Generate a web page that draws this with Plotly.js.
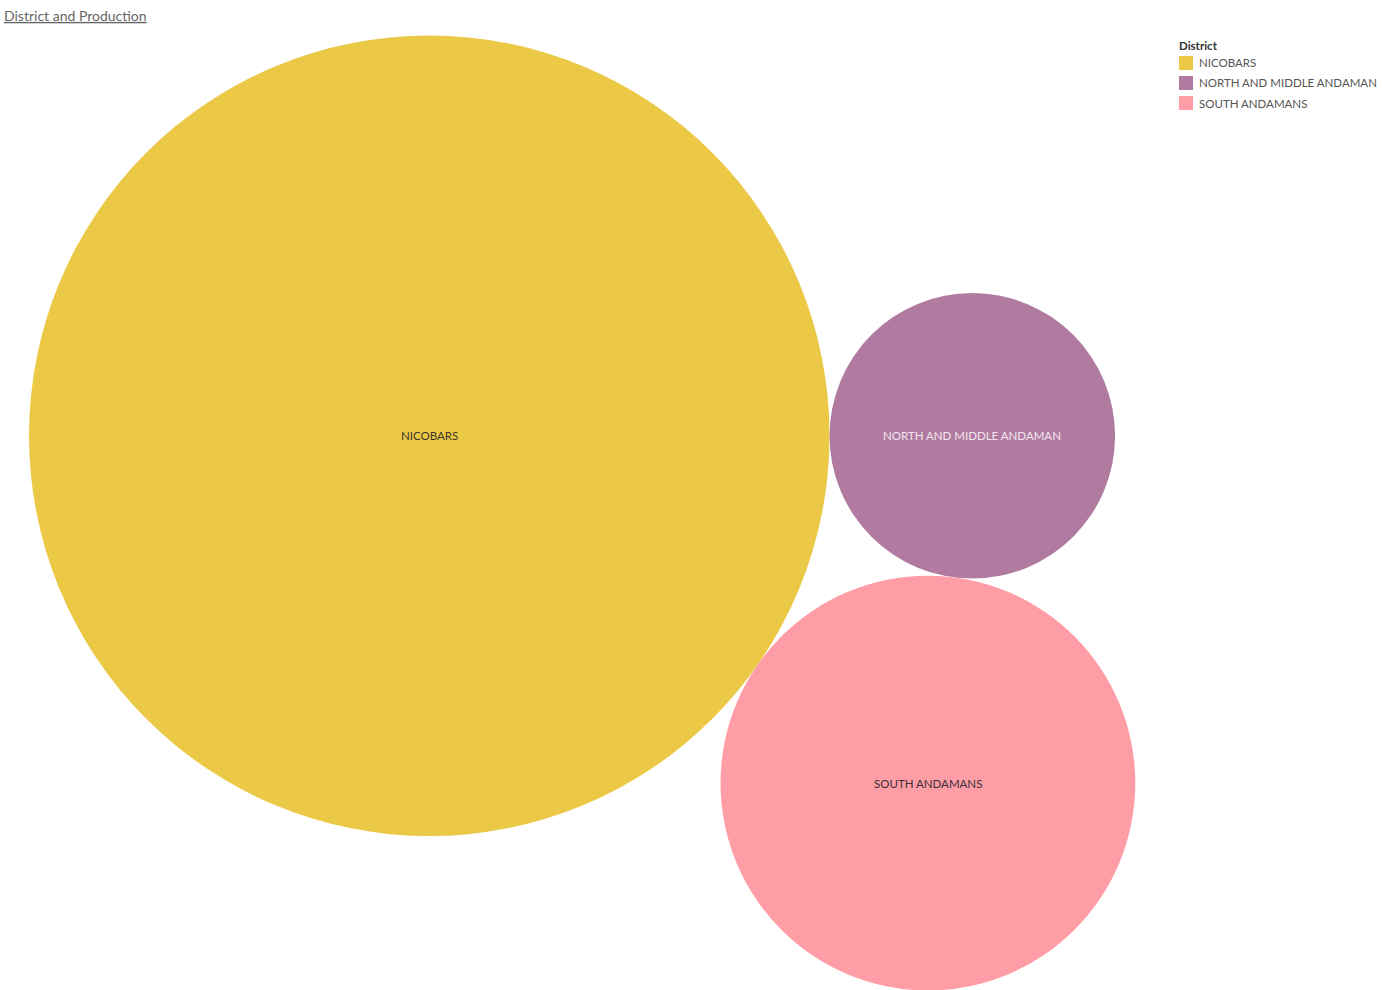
<!DOCTYPE html>
<html>
<head>
<meta charset="utf-8">
<script src="https://cdn.plot.ly/plotly-3.0.1.min.js"></script>
<style>html,body{margin:0;padding:0;background:#fff;}#chart{width:1382px;height:990px;}</style>
</head>
<body>
<div id="chart"></div>
<script>
// Data
const districts = ["NICOBARS", "NORTH AND MIDDLE ANDAMAN", "SOUTH ANDAMANS"];
const production = [160400, 20400, 43060];
const colors = ["#EBC947", "#B07AA1", "#FF9DA7"];
const labelColors = ["#3b3526", "#f3e6ee", "#3b3035"];
const legendTitle = "District";
const chartTitle = "District and Production";

// Packed-bubble layout derived from values (area ~ production)
const r = production.map(v => Math.sqrt(v));
const cx = [0, r[0] + r[1], 0];
const cy = [0, 0, 0];
const dAB = r[0] + r[1], dAC = r[0] + r[2], dBC = r[1] + r[2];
cx[2] = (dAC * dAC - dBC * dBC + dAB * dAB) / (2 * dAB);
cy[2] = -Math.sqrt(dAC * dAC - cx[2] * cx[2]);

const xmin = Math.min(...cx.map((c, i) => c - r[i]));
const ymin = Math.min(...cy.map((c, i) => c - r[i]));
const ymax = Math.max(...cy.map((c, i) => c + r[i]));

const W = 1382, H = 990, topPx = 35.5, botPx = 990.5, leftPx = 29;
const s = (botPx - topPx) / (ymax - ymin);
const xRange = [xmin - leftPx / s, xmin + (W - leftPx) / s];
const yTop = ymax + topPx / s;
const yRange = [yTop - H / s, yTop];

const FONT = "Lato, 'Open Sans', sans-serif";

const shapes = districts.map((d, i) => ({
  type: "circle", xref: "x", yref: "y",
  x0: cx[i] - r[i], x1: cx[i] + r[i], y0: cy[i] - r[i], y1: cy[i] + r[i],
  fillcolor: colors[i], line: {width: 0}, layer: "below"
}));

const annotations = districts.map((d, i) => ({
  x: cx[i], y: cy[i], xref: "x", yref: "y", text: d, showarrow: false,
  font: {family: FONT, size: 11.5, color: labelColors[i]}
}));

// Legend (drawn with paper-referenced shapes/annotations)
const lgX = 1179 / W, lgTop = 56, lgStep = 20, sw = 14;
annotations.push({
  x: 1177 / W, y: 1 - 46 / H, xref: "paper", yref: "paper", xanchor: "left", yanchor: "middle",
  text: legendTitle, showarrow: false,
  font: {family: FONT, size: 11.5, color: "#333", weight: "bold"}
});
districts.forEach((d, i) => {
  const top = lgTop + i * lgStep;
  shapes.push({
    type: "rect", xref: "paper", yref: "paper",
    x0: lgX, x1: lgX + sw / W, y0: 1 - (top + sw) / H, y1: 1 - top / H,
    fillcolor: colors[i], line: {width: 0}
  });
  annotations.push({
    x: 1197 / W, y: 1 - (top + sw / 2) / H, xref: "paper", yref: "paper",
    xanchor: "left", yanchor: "middle", text: d, showarrow: false,
    font: {family: FONT, size: 11.5, color: "#555"}
  });
});

const traces = [{type: "scatter", mode: "markers", x: [], y: [], hoverinfo: "skip", showlegend: false}];

const layout = {
  width: W, height: H,
  margin: {l: 0, r: 0, t: 0, b: 0, pad: 0},
  paper_bgcolor: "#fff", plot_bgcolor: "#fff",
  title: {
    text: "<u>" + chartTitle + "</u>",
    x: 4 / W, xanchor: "left", xref: "paper",
    y: 1 - 16 / H, yanchor: "middle", yref: "container",
    font: {family: FONT, size: 14, color: "#666"}
  },
  xaxis: {range: xRange, visible: false, fixedrange: true},
  yaxis: {range: yRange, visible: false, fixedrange: true},
  shapes: shapes,
  annotations: annotations,
  showlegend: false,
  hovermode: false
};

Plotly.newPlot("chart", traces, layout, {displayModeBar: false, staticPlot: true});
</script>
</body>
</html>
